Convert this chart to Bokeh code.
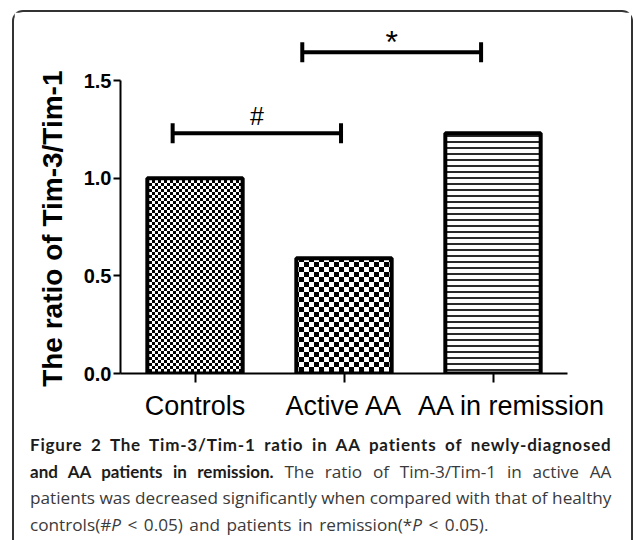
import base64
import html
import numpy as np
from bokeh.plotting import figure
from bokeh.layouts import column
from bokeh.core.properties import value
from bokeh.models import (ColumnDataSource, Range1d, FixedTicker, NumeralTickFormatter,
                          LabelSet, Title, ImageURLTexture, Div)
from bokeh.embed import file_html
from bokeh.resources import INLINE

# ---------------- data ----------------
categories = ["Controls", "Active AA", "AA in remission"]
ratio = [1.00, 0.59, 1.23]
y_ticks = [0.0, 0.5, 1.0, 1.5]

sig_labels = ["#", "*"]
sig_x0 = [0.85, 1.72]
sig_x1 = [1.98, 2.92]
sig_y = [1.23, 1.645]

y_title = "The ratio of Tim-3/Tim-1"

caption_bold = ["Figure 2 The Tim-3/Tim-1 ratio in AA patients of newly-diagnosed",
                "and AA patients in remission."]
caption_reg_2 = "The ratio of Tim-3/Tim-1 in active AA"
caption_reg_3 = "patients was decreased significantly when compared with that of healthy"
caption_reg_4 = ["controls(#", "P", " < 0.05) and patients in remission(*", "P", " < 0.05)."]


def checker_url(cell):
    n = 2 * cell
    svg = (f"<svg xmlns='http://www.w3.org/2000/svg' width='{n}' height='{n}' shape-rendering='crispEdges'>"
           f"<rect width='{n}' height='{n}' fill='white'/>"
           f"<rect width='{cell}' height='{cell}' fill='black'/>"
           f"<rect x='{cell}' y='{cell}' width='{cell}' height='{cell}' fill='black'/></svg>")
    return "data:image/svg+xml;base64," + base64.b64encode(svg.encode()).decode()


# ---------------- chart ----------------
W = 617
p = figure(width=W, height=413, output_backend="svg", toolbar_location=None,
           x_range=Range1d(0.5, 3.5), y_range=Range1d(0, 1.8175),
           min_border_left=106, min_border_right=64, min_border_top=6,
           min_border_bottom=52)
p.outline_line_color = None
p.grid.visible = False

xpos = list(range(1, len(categories) + 1))

src = ColumnDataSource(dict(
    x=xpos, top=ratio,
    hatch=["checker_fine", "checker_coarse", "horizontal_line"],
))
p.vbar(x="x", top="top", bottom=0, width=0.64, source=src,
       fill_color="white", line_color="black", line_width=4,
       hatch_pattern="hatch", hatch_scale=6, hatch_weight=2,
       hatch_color="#2a2a2a",
       hatch_extra={"checker_fine": ImageURLTexture(url=checker_url(3)),
                    "checker_coarse": ImageURLTexture(url=checker_url(5))})

# significance brackets
p.segment(x0=sig_x0, y0=sig_y, x1=sig_x1, y1=sig_y, line_color="black", line_width=4)
p.scatter(x=sig_x0 + sig_x1, y=sig_y + sig_y, marker="dash", size=20, angle=np.pi / 2,
          line_color="black", line_width=4)
sig_src = ColumnDataSource(dict(
    x=[(a + b) / 2 for a, b in zip(sig_x0, sig_x1)], y=sig_y, text=sig_labels,
    fs=["25px", "32px"], dy=[8, -1]))
p.add_layout(LabelSet(x="x", y="y", text="text", source=sig_src, y_offset="dy",
                      text_font_size="fs", text_align="center",
                      text_baseline="alphabetic", text_font=value("Liberation Sans"),
                      text_color="black"))

# x axis with category labels
xa = p.xaxis[0]
xa.ticker = FixedTicker(ticks=xpos)
shift = ["", "", "\u00a0" * 5]
xa.major_label_overrides = {float(x): s + c for x, c, s in zip(xpos, categories, shift)}
xa.major_label_text_font = "Liberation Sans"
xa.major_label_text_font_size = "27px"
xa.major_label_text_color = "black"
xa.major_label_standoff = 8
xa.axis_line_width = 2
xa.major_tick_line_width = 2
xa.major_tick_in = 0
xa.major_tick_out = 9
xa.minor_tick_line_color = None
xa.axis_line_color = "black"
xa.major_tick_line_color = "black"

# y axis
ya = p.yaxis[0]
ya.ticker = FixedTicker(ticks=y_ticks)
ya.formatter = NumeralTickFormatter(format="0.0")
ya.bounds = (y_ticks[0], y_ticks[-1])
ya.axis_line_width = 2
ya.major_tick_line_width = 2
ya.major_tick_in = 0
ya.major_tick_out = 7
ya.minor_tick_line_color = None
ya.major_label_standoff = 2
ya.major_label_text_font = "Liberation Sans"
ya.major_label_text_font_style = "bold"
ya.major_label_text_font_size = "20px"
ya.major_label_text_color = "black"
ya.axis_line_color = "black"
ya.major_tick_line_color = "black"

p.add_layout(Title(text=y_title, align="right", offset=52, standoff=25,
                   text_font="Liberation Sans", text_font_style="bold",
                   text_font_size="28px", text_color="black"), "left")

# ---------------- caption ----------------
e = html.escape
bold_style = "font-family: Lato; font-weight: bold; font-size: 17px; color: #1c1c1c;"
just = "text-align: justify; text-align-last: justify; white-space: nowrap;"
reg4 = "".join(f"<i>{e(t)}</i>" if t == "P" else e(t) for t in caption_reg_4)
caption_html = (
    "<div style=\"font-family: 'Open Sans'; font-size: 17.2px; line-height: 26.5px; "
    "color: #3a3a3a; padding: 7px 10px 0 16px; margin: 0;\">"
    f"<div style='{just}'><span style='{bold_style} letter-spacing: 0.8px;'>{e(caption_bold[0])}</span></div>"
    f"<div style='{just}'><span style='{bold_style}'>{e(caption_bold[1])}</span> {e(caption_reg_2)}</div>"
    f"<div style='{just}'>{e(caption_reg_3)}</div>"
    f"<div style='white-space: nowrap; word-spacing: 2px;'>{reg4}</div>"
    "</div>"
)
cap = Div(text=caption_html, width=W, height=115, margin=0)

layout = column(p, cap, spacing=0, styles={
    "box-sizing": "content-box",
    "margin-left": "12px", "margin-top": "10px",
    "border-left": "2px solid #333333", "border-top": "2px solid #333333",
    "border-right": "2px solid #333333",
    "border-top-left-radius": "11px", "border-top-right-radius": "11px",
})

open("out.html", "w").write(file_html(layout, INLINE))
